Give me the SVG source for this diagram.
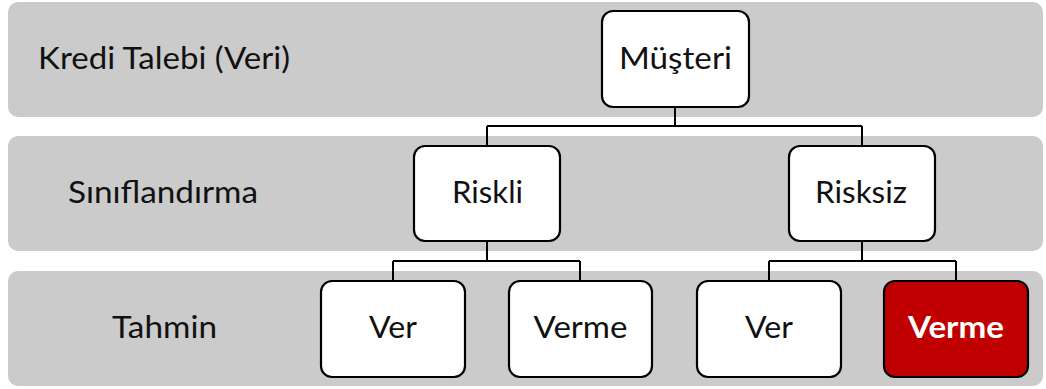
<svg xmlns="http://www.w3.org/2000/svg" width="1046" height="389" viewBox="0 0 1046 389">
<style>
.band{fill:#CBCBCB;stroke:none}
.box{fill:#FFFFFF;stroke:#000000;stroke-width:2.2}
.red{fill:#C00000;stroke:#000000;stroke-width:2.2}
.t{font-family:Lato,"Open Sans","Liberation Sans",sans-serif;font-size:30px;fill:#111111}
.c{text-anchor:middle}
.w{fill:#FFFFFF;font-weight:bold}
.conn{fill:none;stroke:#000000;stroke-width:2}
</style>
<rect width="1046" height="389" fill="#FFFFFF"/>
<g id="band1"><rect class="band" x="8" y="2" width="1035" height="115" rx="10"/><text class="t" x="38" y="69" textLength="252" lengthAdjust="spacingAndGlyphs">Kredi Talebi (Veri)</text></g>
<g id="band2"><rect class="band" x="8" y="136" width="1035" height="115" rx="10"/><text class="t" x="68" y="203" textLength="190" lengthAdjust="spacingAndGlyphs">Sınıflandırma</text></g>
<g id="band3"><rect class="band" x="8" y="271" width="1035" height="115" rx="10"/><text class="t" x="112" y="338" textLength="105" lengthAdjust="spacingAndGlyphs">Tahmin</text></g>
<g id="connectors">
<path class="conn" d="M675 107V126M487 126H862M487 126V146M862 126V146"/>
<path class="conn" d="M487 241V261M393 261H580M393 261V281M580 261V281"/>
<path class="conn" d="M862 241V261M769 261H956M769 261V281M956 261V281"/>
</g>
<g id="musteri"><rect class="box" x="602" y="11" width="147" height="96" rx="11"/><text class="t c" x="675.5" y="69" textLength="113" lengthAdjust="spacingAndGlyphs">Müşteri</text></g>
<g id="riskli"><rect class="box" x="414" y="146" width="146" height="95" rx="11"/><text class="t c" x="487.5" y="203" textLength="71" lengthAdjust="spacingAndGlyphs">Riskli</text></g>
<g id="risksiz"><rect class="box" x="789" y="146" width="146" height="95" rx="11"/><text class="t c" x="861" y="203" textLength="92" lengthAdjust="spacingAndGlyphs">Risksiz</text></g>
<g id="ver1"><rect class="box" x="321" y="281" width="144" height="96" rx="11"/><text class="t c" x="393" y="338" textLength="48" lengthAdjust="spacingAndGlyphs">Ver</text></g>
<g id="verme1"><rect class="box" x="509" y="281" width="143" height="96" rx="11"/><text class="t c" x="580.5" y="338" textLength="94" lengthAdjust="spacingAndGlyphs">Verme</text></g>
<g id="ver2"><rect class="box" x="697" y="281" width="144" height="96" rx="11"/><text class="t c" x="769" y="338" textLength="48" lengthAdjust="spacingAndGlyphs">Ver</text></g>
<g id="verme2"><rect class="red" x="884" y="281" width="144" height="96" rx="11"/><text class="t c w" x="956" y="338" textLength="96" lengthAdjust="spacingAndGlyphs">Verme</text></g>
</svg>
